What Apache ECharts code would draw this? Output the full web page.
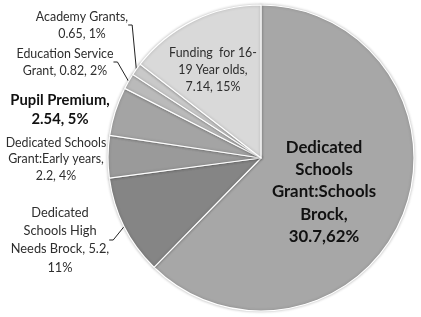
<!DOCTYPE html>
<html><head><meta charset="utf-8">
<script src="https://cdn.jsdelivr.net/npm/echarts@6/dist/echarts.min.js"></script>
<style>html,body{margin:0;padding:0;background:#fff}#c{width:421px;height:317px}</style>
</head><body><div id="c"></div>
<script>
const categories = [
  'Dedicated Schools Grant:Schools Brock',
  'Dedicated Schools High Needs Brock',
  'Dedicated Schools Grant:Early years',
  'Pupil Premium',
  'Education Service Grant',
  'Academy Grants',
  'Funding  for 16-19 Year olds'
];
const values = [30.7, 5.2, 2.2, 2.54, 0.82, 0.65, 7.14];
const percents = ['62%', '11%', '4%', '5%', '2%', '1%', '15%'];
const labelTexts = [
  'Dedicated\nSchools\nGrant:Schools\nBrock,\n30.7,62%',
  'Dedicated\nSchools High\nNeeds Brock, 5.2,\n11%',
  'Dedicated Schools\nGrant:Early years,\n2.2, 4%',
  'Pupil Premium,\n2.54, 5%',
  'Education Service\nGrant, 0.82, 2%',
  'Academy Grants,\n0.65, 1%',
  'Funding  for 16-\n19 Year olds,\n7.14, 15%'
];

// styling
const colors = ['#a7a7a7', '#858585', '#9a9a9a', '#a4a4a4', '#bababa', '#c9c9c9', '#d9d9d9'];
const labelPos = [[324, 192], [60, 240], [56, 159], [60, 110], [65, 62], [82, 25], [213, 70]];
const labelBold = [true, false, false, true, false, false, false];
const labelSize = [16.8, 12.8, 12.4, 14.8, 12.4, 12.4, 12.4];
const labelLH = [22.3, 18.3, 16.5, 19, 17, 17, 17];
const showLine = [false, true, false, false, true, true, false];

const chart = echarts.init(document.getElementById('c'), null, {renderer: 'canvas'});
const data = categories.map((name, i) => ({
  name: name,
  value: values[i],
  itemStyle: {color: colors[i]},
  label: {
    formatter: labelTexts[i],
    fontWeight: labelBold[i] ? 'bold' : 'normal',
    fontSize: labelSize[i],
    lineHeight: labelLH[i],
    color: labelBold[i] ? '#111' : '#2e2e2e'
  },
  labelLine: {show: showLine[i]}
}));

chart.setOption({
  animation: false,
  backgroundColor: '#fff',
  series: [{
    type: 'pie',
    center: [261, 158],
    radius: 153,
    startAngle: 90,
    clockwise: true,
    avoidLabelOverlap: false,
    data: data,
    itemStyle: {borderColor: '#fff', borderWidth: 1.2, shadowColor: 'rgba(0,0,0,0.25)', shadowBlur: 3},
    label: {
      show: true,
      position: 'outside',
      fontFamily: 'Lato',
      align: 'center'
    },
    labelLine: {
      show: true,
      length: 10,
      length2: 4,
      lineStyle: {color: '#222', width: 1}
    },
    labelLayout: function (params) {
      const p = labelPos[params.dataIndex];
      return {x: p[0], y: p[1], align: 'center', verticalAlign: 'middle'};
    }
  }]
});
</script>
</body></html>
